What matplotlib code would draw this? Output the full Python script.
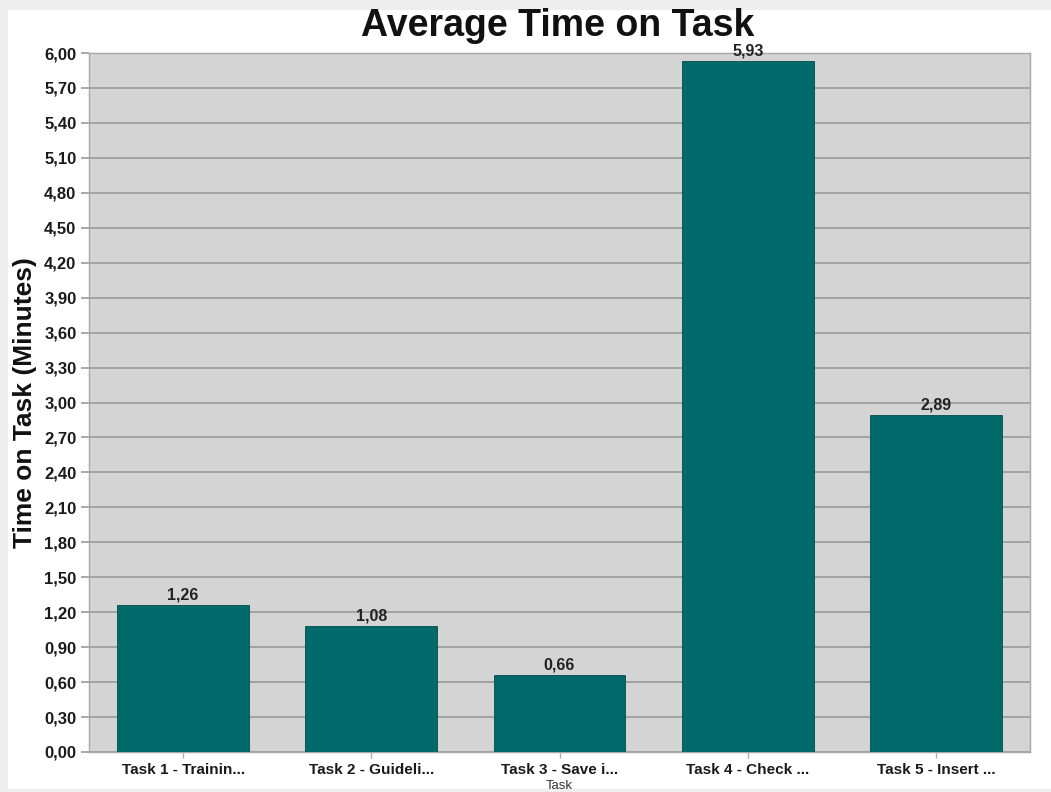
import matplotlib.pyplot as plt
import matplotlib.patches as mpatches
from matplotlib.ticker import FuncFormatter, MultipleLocator

plt.rcParams['font.family'] = ['Liberation Sans', 'DejaVu Sans']

tasks = ["Task 1 - Trainin...", "Task 2 - Guideli...", "Task 3 - Save i...",
         "Task 4 - Check ...", "Task 5 - Insert ..."]
avg_minutes = [1.26, 1.08, 0.66, 5.93, 2.89]
value_labels = ["1,26", "1,08", "0,66", "5,93", "2,89"]

W, H = 1051, 792
fig = plt.figure(figsize=(W / 100, H / 100), dpi=100, facecolor='#eeeeee')

# white chart panel inside a light frame
panel = mpatches.Rectangle((8 / W, 3 / H), 1 - 8 / W, (782 - 3) / H,
                           transform=fig.transFigure, facecolor='white',
                           edgecolor='none', zorder=-10)
fig.add_artist(panel)

ax = fig.add_axes([89 / W, 40 / H, (1030 - 89) / W, (752 - 53) / H])
ax.set_zorder(1)
ax.set_facecolor('#d4d4d4')

x = range(len(tasks))
ax.bar(x, avg_minutes, width=0.70, color='#006a6a', edgecolor='#004c4c',
       linewidth=0.6, zorder=3)

for xi, v, lab in zip(x, avg_minutes, value_labels):
    ax.text(xi, v + 0.02, lab, ha='center', va='bottom', fontsize=11.5,
            fontweight='bold', color='#222222', zorder=4)

ax.set_xlim(-0.5, len(tasks) - 0.5)
ax.set_ylim(0, 6.0)
ax.yaxis.set_major_locator(MultipleLocator(0.30))
ax.yaxis.set_major_formatter(FuncFormatter(lambda v, p: f"{v:.2f}".replace('.', ',')))
ax.grid(axis='y', color='#9a9a9a', linewidth=1.2, zorder=1)
ax.set_axisbelow(True)

ax.set_xticks(list(x))
ax.set_xticklabels(tasks, fontsize=11, fontweight='bold', color='#1a1a1a')
for lbl in ax.get_yticklabels():
    lbl.set_fontweight('bold')
ax.tick_params(axis='y', labelsize=12, length=6, width=1.2, color='#9a9a9a',
               labelcolor='#1a1a1a', pad=3)
ax.tick_params(axis='x', length=4, width=1, color='#b0b0b0', pad=4)

for s in ax.spines.values():
    s.set_color('#a8a8a8')
    s.set_linewidth(1.0)

ax.set_ylabel("Time on Task (Minutes)", fontsize=19, fontweight='bold',
              color='#111111', labelpad=5)
ax.set_xlabel("Task", fontsize=9.5, color='#333333', labelpad=2)

fig.text(558 / W, 1 - 26 / H, "Average Time on Task", ha='center', va='center',
         fontsize=27, fontweight='bold', color='#111111')

fig.savefig("out.png", dpi=100, facecolor=fig.get_facecolor())
